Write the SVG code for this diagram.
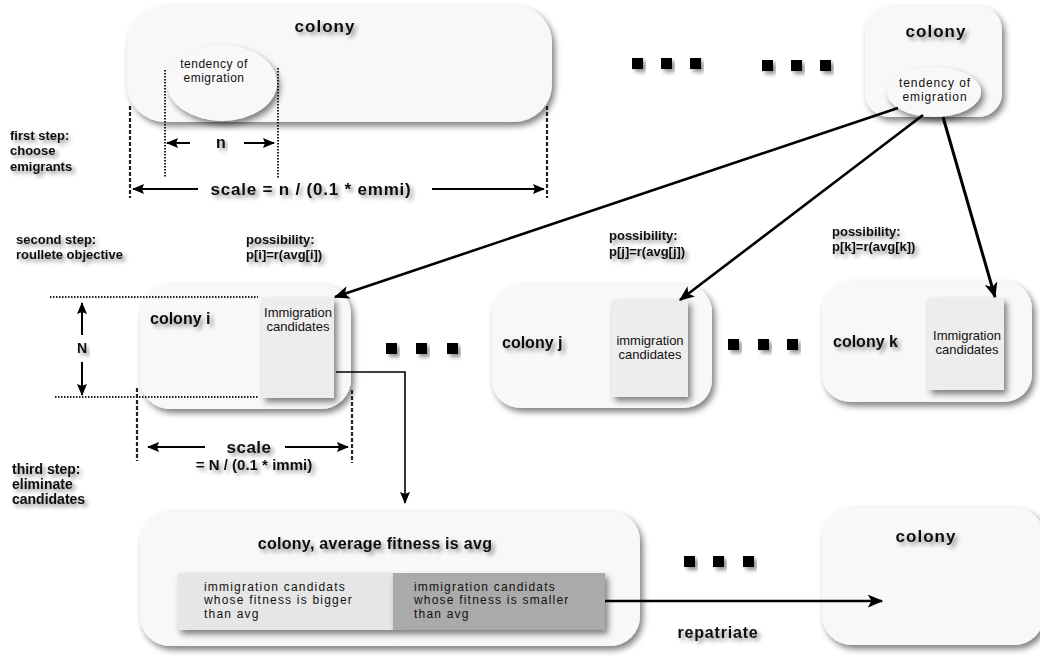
<svg xmlns="http://www.w3.org/2000/svg" width="1040" height="656" viewBox="0 0 1040 656">
<defs>
<filter id="sh" x="-10%" y="-10%" width="130%" height="140%">
<feGaussianBlur in="SourceAlpha" stdDeviation="3"/><feOffset dx="3" dy="4"/>
<feComponentTransfer><feFuncA type="linear" slope="0.5"/></feComponentTransfer>
<feMerge><feMergeNode/><feMergeNode in="SourceGraphic"/></feMerge>
</filter>
<filter id="tsh" x="-10%" y="-40%" width="130%" height="200%">
<feGaussianBlur in="SourceAlpha" stdDeviation="2"/><feOffset dx="3" dy="3"/>
<feComponentTransfer><feFuncA type="linear" slope="0.45"/></feComponentTransfer>
<feMerge><feMergeNode/><feMergeNode in="SourceGraphic"/></feMerge>
</filter>
<marker id="ah" viewBox="0 0 12 10" refX="11" refY="5" markerWidth="12" markerHeight="10" markerUnits="userSpaceOnUse" orient="auto">
<path d="M0,0 L12,5 L0,10 L2,5 z" fill="#000"/>
</marker>
<marker id="ah2" viewBox="0 0 12 10" refX="11" refY="5" markerWidth="16" markerHeight="13" markerUnits="userSpaceOnUse" orient="auto">
<path d="M0,0 L12,5 L0,10 L3,5 z" fill="#000"/>
</marker>
<style>
.box{fill:#f8f8f8;filter:url(#sh)}
.cand{fill:#ededed;filter:url(#sh)}
.b{font-family:"Liberation Sans",Arial,sans-serif;font-weight:bold;font-size:13px;fill:#111;filter:url(#tsh)}
.t{font-size:17px;letter-spacing:1px}
.c{font-size:16px}
.r{font-family:"Liberation Sans",Arial,sans-serif;font-size:12px;fill:#111;letter-spacing:0.5px}
.w{font-size:12px;letter-spacing:1.2px}
.im{font-size:13px;letter-spacing:0}
.dot{stroke:#222;stroke-width:2;stroke-dasharray:1.5 1.5;fill:none}
.dash{stroke:#222;stroke-width:2.2;stroke-dasharray:4 2;fill:none}
.ln{stroke:#000;stroke-width:2;fill:none}
.sq{fill:#000;filter:url(#tsh)}
</style>
</defs>

<!-- annotations -->
<g id="labels">
<text class="b" x="10" y="140">first step:</text>
<text class="b" x="10" y="155">choose</text>
<text class="b" x="10" y="171">emigrants</text>
<text class="b" x="16" y="244">second step:</text>
<text class="b" x="16" y="259">roullete objective</text>
<text class="b" x="246" y="244">possibility:</text>
<text class="b" x="246" y="259">p[i]=r(avg[i])</text>
<text class="b" x="609" y="240">possibility:</text>
<text class="b" x="609" y="256">p[j]=r(avg[j])</text>
<text class="b" x="832" y="236">possibility:</text>
<text class="b" x="832" y="251">p[k]=r(avg[k])</text>
<text class="b" x="12" y="474" style="font-size:14px">third step:</text>
<text class="b" x="12" y="489" style="font-size:14px">eliminate</text>
<text class="b" x="12" y="504" style="font-size:14px">candidates</text>
<text class="b" x="718" y="638" text-anchor="middle" style="font-size:16px;letter-spacing:0.8px">repatriate</text>
</g>

<!-- top colony -->
<g id="colony-top">
<rect class="box" x="127" y="5" width="425" height="117" rx="38"/>
<text class="b t" x="325" y="32" text-anchor="middle">colony</text>
<ellipse class="box" cx="222" cy="83" rx="55" ry="38"/>
<text class="r" x="214" y="68" text-anchor="middle">tendency of</text>
<text class="r" x="214" y="82" text-anchor="middle">emigration</text>
</g>

<g id="dim-first">
<line class="dot" x1="165" y1="70" x2="165" y2="178"/>
<line class="dot" x1="278" y1="68" x2="278" y2="178"/>
<line class="dash" x1="130" y1="106" x2="130" y2="198"/>
<line class="dash" x1="547" y1="106" x2="547" y2="198"/>
<line class="ln" x1="190" y1="143" x2="167" y2="143" marker-end="url(#ah)"/>
<line class="ln" x1="244" y1="143" x2="274" y2="143" marker-end="url(#ah)"/>
<text class="b" x="221" y="148" text-anchor="middle" style="font-size:16px">n</text>
<line class="ln" x1="198" y1="189" x2="133" y2="189" marker-end="url(#ah)"/>
<line class="ln" x1="432" y1="189" x2="544" y2="189" marker-end="url(#ah)"/>
<text class="b" x="311" y="195" text-anchor="middle" style="font-size:17px;letter-spacing:0.8px">scale = n / (0.1 * emmi)</text>
</g>

<g id="dots">
<rect class="sq" x="632" y="58" width="11" height="11"/>
<rect class="sq" x="661" y="58" width="11" height="11"/>
<rect class="sq" x="690" y="58" width="11" height="11"/>
<rect class="sq" x="762" y="60" width="11" height="11"/>
<rect class="sq" x="791" y="60" width="11" height="11"/>
<rect class="sq" x="820" y="60" width="11" height="11"/>
<rect class="sq" x="386" y="343" width="11" height="11"/>
<rect class="sq" x="416" y="343" width="11" height="11"/>
<rect class="sq" x="447" y="343" width="11" height="11"/>
<rect class="sq" x="728" y="339" width="11" height="11"/>
<rect class="sq" x="758" y="339" width="11" height="11"/>
<rect class="sq" x="787" y="339" width="11" height="11"/>
<rect class="sq" x="684" y="556" width="11" height="11"/>
<rect class="sq" x="713" y="556" width="11" height="11"/>
<rect class="sq" x="743" y="556" width="11" height="11"/>
</g>

<!-- top right colony -->
<g id="colony-topright">
<rect class="box" x="865" y="6" width="137" height="111" rx="24"/>
<text class="b t" x="936" y="37" text-anchor="middle">colony</text>
<ellipse class="box" cx="934" cy="92" rx="47" ry="25"/>
<text class="r" x="935" y="87" text-anchor="middle" style="letter-spacing:0.9px">tendency of</text>
<text class="r" x="935" y="101" text-anchor="middle" style="letter-spacing:0.9px">emigration</text>
</g>

<!-- colony i -->
<g id="colony-i">
<rect class="box" x="140" y="284" width="211" height="125" rx="30"/>
<rect class="cand" x="262" y="298" width="72" height="100"/>
<text class="b c" x="150" y="324">colony i</text>
<text class="r im" x="298" y="317" text-anchor="middle">Immigration</text>
<text class="r im" x="298" y="331" text-anchor="middle">candidates</text>
</g>

<g id="dim-second">
<line class="dot" x1="50" y1="297" x2="258" y2="297"/>
<line class="dot" x1="55" y1="397" x2="258" y2="397"/>
<line class="ln" x1="82" y1="335" x2="82" y2="303" marker-end="url(#ah)"/>
<text class="b" x="82" y="353" text-anchor="middle" style="font-size:14px">N</text>
<line class="ln" x1="82" y1="362" x2="82" y2="395" marker-end="url(#ah)"/>
<line class="dash" x1="137" y1="388" x2="137" y2="461"/>
<line class="dash" x1="352" y1="390" x2="352" y2="463"/>
<line class="ln" x1="205" y1="447" x2="148" y2="447" marker-end="url(#ah)"/>
<line class="ln" x1="285" y1="447" x2="348" y2="447" marker-end="url(#ah)"/>
<text class="b" x="249" y="453" text-anchor="middle" style="font-size:17px;letter-spacing:0.5px">scale</text>
<text class="b" x="254" y="470" text-anchor="middle" style="font-size:15px">= N / (0.1 * immi)</text>
</g>

<!-- colony j -->
<g id="colony-j">
<rect class="box" x="492" y="284" width="220" height="124" rx="28"/>
<rect class="cand" x="612" y="300" width="76" height="97"/>
<text class="b c" x="502" y="348">colony j</text>
<text class="r im" x="650" y="345" text-anchor="middle">immigration</text>
<text class="r im" x="650" y="359" text-anchor="middle">candidates</text>
</g>

<!-- colony k -->
<g id="colony-k">
<rect class="box" x="822" y="281" width="210" height="121" rx="28"/>
<rect class="cand" x="928" y="298" width="76" height="92"/>
<text class="b c" x="833" y="347">colony k</text>
<text class="r im" x="967" y="340" text-anchor="middle">Immigration</text>
<text class="r im" x="967" y="354" text-anchor="middle">candidates</text>
</g>

<!-- bottom colony -->
<g id="colony-avg">
<rect class="box" x="140" y="511" width="500" height="135" rx="30"/>
<text class="b" x="375" y="549" text-anchor="middle" style="font-size:16px;letter-spacing:0.3px">colony, average fitness is avg</text>
<rect x="178" y="573" width="216" height="57" fill="#e6e6e6" filter="url(#sh)"/>
<rect x="393" y="573" width="212" height="57" fill="#aaaaaa" filter="url(#sh)"/>
<text class="r w" x="204" y="591">immigration candidats</text>
<text class="r w" x="204" y="604">whose fitness is bigger</text>
<text class="r w" x="204" y="618">than avg</text>
<text class="r w" x="414" y="591">immigration candidats</text>
<text class="r w" x="414" y="604">whose fitness is smaller</text>
<text class="r w" x="414" y="618">than avg</text>
</g>

<!-- bottom right colony -->
<g id="colony-right">
<rect class="box" x="822" y="507" width="222" height="138" rx="30"/>
<text class="b t" x="926" y="542" text-anchor="middle">colony</text>
</g>

<!-- connectors -->
<g id="connectors">
<line x1="898" y1="108" x2="335" y2="297" stroke="#000" stroke-width="2.6" marker-end="url(#ah2)"/>
<line x1="923" y1="115" x2="680" y2="300" stroke="#000" stroke-width="2.6" marker-end="url(#ah2)"/>
<line x1="943" y1="117" x2="995" y2="297" stroke="#000" stroke-width="3" marker-end="url(#ah2)"/>
<polyline points="336,372 405,372 405,503" fill="none" stroke="#000" stroke-width="1.6" marker-end="url(#ah)"/>
<line x1="605" y1="601" x2="882" y2="601" stroke="#000" stroke-width="2.6" marker-end="url(#ah2)"/>
</g>
</svg>
